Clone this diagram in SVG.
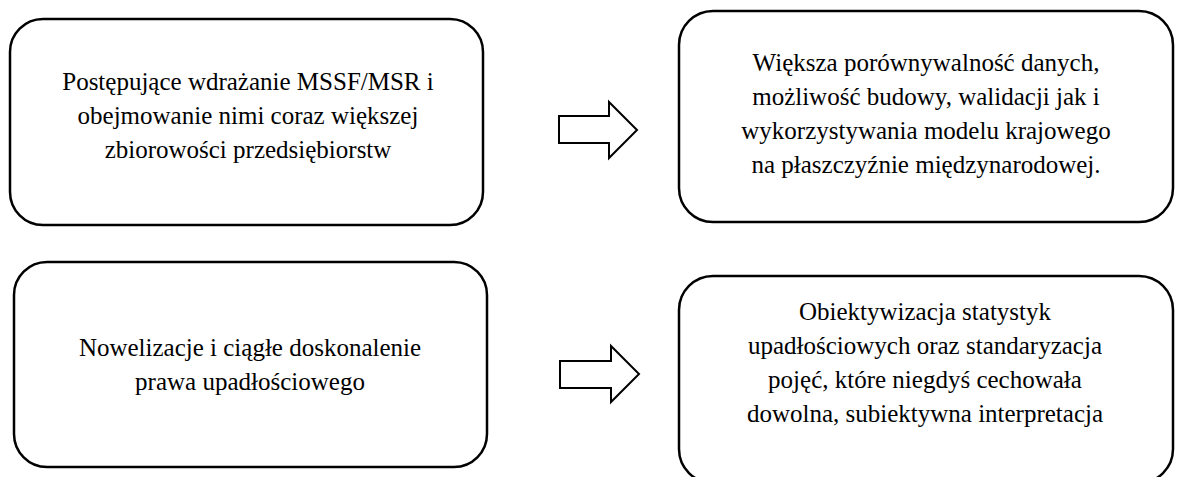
<svg xmlns="http://www.w3.org/2000/svg" width="1178" height="477" viewBox="0 0 1178 477">
  <style>
    .box { fill: #ffffff; stroke: #000000; stroke-width: 2.5; }
    .arrow { fill: #ffffff; stroke: #000000; stroke-width: 2; stroke-linejoin: miter; }
    .label { fill: #000000; text-anchor: middle; font-family: 'Liberation Serif', serif; font-size: 25px; }
  </style>
  <rect width="1178" height="477" fill="#ffffff"/>

  <g id="node-mssf">
    <rect class="box" x="10" y="19" width="473" height="206" rx="33" ry="33"/>
    <text class="label" x="248" y="90">Postępujące wdrażanie MSSF/MSR i</text>
    <text class="label" x="248" y="124">obejmowanie nimi coraz większej</text>
    <text class="label" x="248" y="158">zbiorowości przedsiębiorstw</text>
  </g>

  <g id="node-porownywalnosc">
    <rect class="box" x="679" y="11" width="494" height="211" rx="34" ry="34"/>
    <text class="label" x="926" y="71">Większa porównywalność danych,</text>
    <text class="label" x="926" y="105">możliwość budowy, walidacji jak i</text>
    <text class="label" x="926" y="139">wykorzystywania modelu krajowego</text>
    <text class="label" x="926" y="173">na płaszczyźnie międzynarodowej.</text>
  </g>

  <g id="node-prawo">
    <rect class="box" x="14" y="262" width="473" height="205" rx="33" ry="33"/>
    <text class="label" x="250" y="356">Nowelizacje i ciągłe doskonalenie</text>
    <text class="label" x="250" y="390">prawa upadłościowego</text>
  </g>

  <g id="node-statystyki">
    <rect class="box" x="679" y="276" width="494" height="207" rx="34" ry="34"/>
    <text class="label" x="925" y="320">Obiektywizacja statystyk</text>
    <text class="label" x="925" y="354">upadłościowych oraz standaryzacja</text>
    <text class="label" x="925" y="388">pojęć, które niegdyś cechowała</text>
    <text class="label" x="925" y="422">dowolna, subiektywna interpretacja</text>
  </g>

  <g id="connectors">
    <polygon class="arrow" points="559,116 609,116 609,102 637,130 609,158 609,143 559,143"/>
    <polygon class="arrow" points="560,361 611,361 611,346 639,374 611,402 611,388 560,388"/>
  </g>
</svg>
